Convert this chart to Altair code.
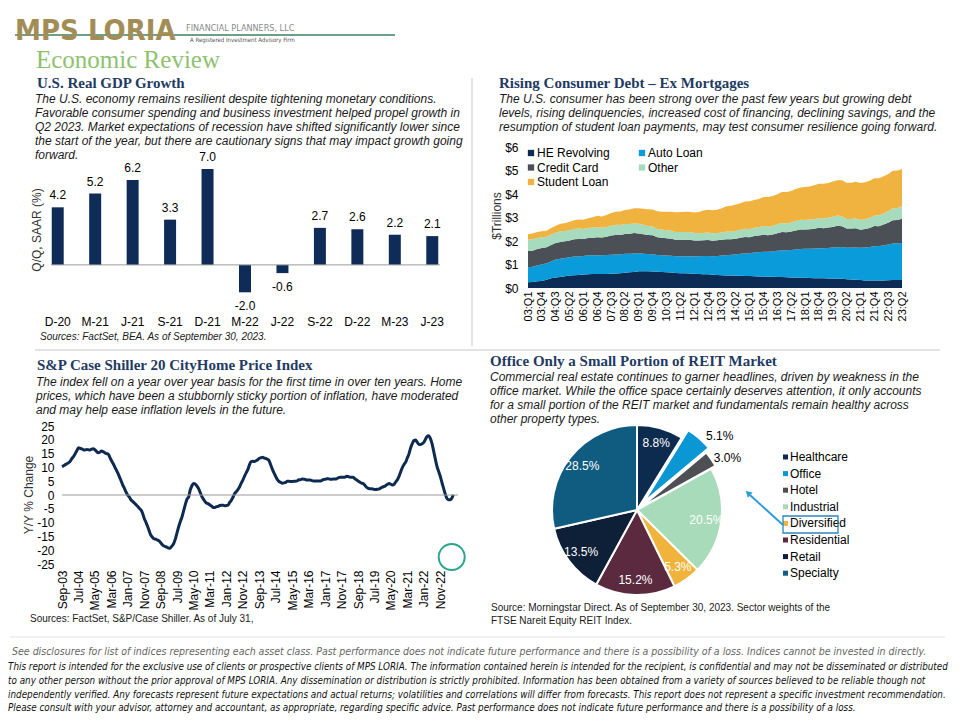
import altair as alt
import pandas as pd

SANS = "Liberation Sans, Arial, sans-serif"
SERIF = "Liberation Serif, Times New Roman, serif"
NARROW = "Liberation Sans Narrow, Arial Narrow, DejaVu Sans Condensed, sans-serif"
NAVY_HEAD = "#1F3B63"
MINUS = "\u2212"
W, H = 944, 704  # whole drawing area (page minus 8px margin)

# ---------------- data ----------------
gdp_quarters = ["D-20", "M-21", "J-21", "S-21", "D-21", "M-22", "J-22", "S-22", "D-22", "M-23", "J-23"]
gdp_values = [4.2, 5.2, 6.2, 3.3, 7.0, -2.0, -0.6, 2.7, 2.6, 2.2, 2.1]

debt_quarters = [f"{y % 100:02d}:Q{q}" for y in range(2003, 2024) for q in range(1, 5)][:82]
debt_labels = debt_quarters[::3]
debt_names = ["HE Revolving", "Auto Loan", "Credit Card", "Other", "Student Loan"]
debt_colors = ["#0C2B55", "#0A9BDB", "#4B4F56", "#A6DBBE", "#F1B340"]

he_revolving = [
    0.24, 0.26, 0.29, 0.30, 0.35, 0.41, 0.45, 0.47, 0.50, 0.53, 0.54, 0.55,
    0.57, 0.59, 0.60, 0.60, 0.60, 0.60, 0.61, 0.62, 0.63, 0.65, 0.67, 0.68,
    0.71, 0.71, 0.71, 0.70, 0.69, 0.68, 0.67, 0.66, 0.64, 0.63, 0.63, 0.62,
    0.61, 0.60, 0.59, 0.58, 0.56, 0.55, 0.54, 0.53, 0.53, 0.52, 0.52, 0.51,
    0.51, 0.50, 0.49, 0.49, 0.48, 0.48, 0.47, 0.47, 0.46, 0.45, 0.45, 0.44,
    0.44, 0.43, 0.42, 0.42, 0.41, 0.40, 0.40, 0.39, 0.39, 0.37, 0.36, 0.35,
    0.34, 0.32, 0.32, 0.32, 0.32, 0.32, 0.33, 0.34, 0.34, 0.34]
auto_loan = [
    0.64, 0.64, 0.68, 0.70, 0.70, 0.72, 0.76, 0.77, 0.78, 0.78, 0.80, 0.79,
    0.79, 0.80, 0.79, 0.79, 0.79, 0.80, 0.81, 0.81, 0.80, 0.81, 0.79, 0.79,
    0.77, 0.75, 0.74, 0.74, 0.71, 0.71, 0.71, 0.71, 0.71, 0.72, 0.72, 0.73,
    0.73, 0.75, 0.77, 0.78, 0.79, 0.81, 0.84, 0.86, 0.88, 0.91, 0.94, 0.96,
    0.97, 1.01, 1.03, 1.05, 1.06, 1.07, 1.11, 1.13, 1.15, 1.17, 1.19, 1.22,
    1.23, 1.24, 1.26, 1.27, 1.28, 1.30, 1.32, 1.33, 1.35, 1.34, 1.36, 1.37,
    1.37, 1.40, 1.43, 1.46, 1.47, 1.49, 1.52, 1.55, 1.56, 1.58]
credit_card = [
    0.69, 0.69, 0.69, 0.70, 0.68, 0.70, 0.70, 0.72, 0.71, 0.71, 0.73, 0.74,
    0.72, 0.74, 0.75, 0.77, 0.76, 0.78, 0.81, 0.83, 0.83, 0.84, 0.85, 0.87,
    0.84, 0.83, 0.81, 0.80, 0.76, 0.75, 0.74, 0.73, 0.70, 0.70, 0.70, 0.70,
    0.68, 0.67, 0.67, 0.68, 0.66, 0.67, 0.67, 0.68, 0.66, 0.67, 0.68, 0.70,
    0.68, 0.70, 0.71, 0.73, 0.71, 0.73, 0.75, 0.78, 0.76, 0.78, 0.81, 0.83,
    0.82, 0.83, 0.84, 0.87, 0.85, 0.87, 0.88, 0.93, 0.89, 0.82, 0.81, 0.82,
    0.77, 0.79, 0.80, 0.86, 0.84, 0.89, 0.93, 0.99, 0.99, 1.03]
other = [
    0.48, 0.48, 0.47, 0.46, 0.45, 0.45, 0.44, 0.45, 0.44, 0.44, 0.44, 0.45,
    0.43, 0.43, 0.42, 0.44, 0.41, 0.42, 0.42, 0.43, 0.42, 0.42, 0.41, 0.41,
    0.41, 0.40, 0.38, 0.38, 0.35, 0.35, 0.34, 0.34, 0.33, 0.33, 0.33, 0.33,
    0.32, 0.31, 0.31, 0.32, 0.31, 0.31, 0.31, 0.33, 0.32, 0.33, 0.34, 0.35,
    0.34, 0.35, 0.36, 0.37, 0.36, 0.37, 0.38, 0.39, 0.38, 0.39, 0.40, 0.41,
    0.40, 0.41, 0.41, 0.42, 0.41, 0.42, 0.43, 0.43, 0.42, 0.41, 0.41, 0.42,
    0.41, 0.42, 0.43, 0.45, 0.45, 0.47, 0.49, 0.51, 0.51, 0.54]
student_loan = [
    0.24, 0.25, 0.25, 0.25, 0.26, 0.27, 0.30, 0.32, 0.33, 0.36, 0.37, 0.39,
    0.39, 0.41, 0.45, 0.47, 0.48, 0.51, 0.54, 0.55, 0.58, 0.60, 0.62, 0.64,
    0.66, 0.68, 0.71, 0.72, 0.76, 0.76, 0.78, 0.81, 0.84, 0.85, 0.87, 0.87,
    0.87, 0.90, 0.96, 0.97, 0.99, 0.99, 1.03, 1.08, 1.11, 1.12, 1.13, 1.16,
    1.19, 1.19, 1.20, 1.23, 1.26, 1.26, 1.28, 1.31, 1.34, 1.34, 1.36, 1.38,
    1.41, 1.41, 1.44, 1.46, 1.49, 1.48, 1.50, 1.51, 1.54, 1.54, 1.54, 1.56,
    1.58, 1.57, 1.58, 1.58, 1.59, 1.59, 1.57, 1.60, 1.60, 1.57]

cs_dates = [f"{2003 + (8 + i) // 12}-{(8 + i) % 12 + 1:02d}-15" for i in range(239)]
cs_label_months = list(range(0, 231, 10))
cs_values = [
    10.3, 10.6, 11.0, 11.3,
    11.7, 12.3, 13.2, 13.9, 14.9, 16.0, 17.1, 16.9, 16.7, 16.4, 16.3, 16.5,
    16.4, 16.3, 16.6, 16.8, 16.4, 15.8, 15.3, 15.5, 15.9, 15.7, 15.3, 15.0,
    14.9, 13.7, 12.6, 11.5, 10.3, 9.1, 7.9, 6.5, 5.0, 3.6, 2.3, 1.0,
    -0.1, -0.8, -1.8, -2.3, -2.9, -3.5, -4.1, -4.8, -5.4, -6.6, -8.5, -9.8,
    -11.3, -13.0, -14.5, -15.3, -15.9, -16.0, -16.3, -16.6, -17.3, -18.0, -18.5, -18.7,
    -19.0, -19.3, -19.1, -18.4, -17.5, -15.8, -13.6, -11.4, -9.5, -7.9, -5.6, -3.4,
    -1.5, -0.6, 1.8, 3.3, 4.2, 4.0, 3.3, 2.4, 1.0, -0.5, -1.5, -2.4,
    -3.0, -3.2, -3.6, -4.0, -4.5, -4.5, -4.2, -4.1, -3.8, -3.7, -3.7, -3.9,
    -3.8, -3.6, -2.7, -1.9, -0.8, 0.5, 1.2, 2.0, 3.0, 4.3, 5.5, 6.8,
    8.1, 9.3, 10.9, 12.1, 12.2, 12.1, 12.4, 12.8, 13.3, 13.5, 13.7, 13.4,
    13.2, 12.9, 12.4, 10.8, 9.3, 7.9, 6.7, 5.6, 4.9, 4.6, 4.3, 4.4,
    4.6, 5.0, 5.0, 4.9, 4.9, 5.0, 5.0, 5.1, 5.5, 5.5, 5.8, 5.7,
    5.6, 5.4, 5.4, 5.4, 5.2, 5.1, 5.1, 5.1, 5.1, 5.1, 5.3, 5.6,
    5.7, 5.9, 5.9, 5.7, 5.7, 5.8, 5.8, 5.9, 6.2, 6.4, 6.4, 6.4,
    6.4, 6.8, 6.7, 6.5, 6.4, 6.4, 6.0, 5.5, 5.1, 4.7, 4.3, 4.2,
    3.6, 2.9, 2.5, 2.3, 2.3, 2.2, 2.0, 2.0, 2.1, 2.2, 2.6, 2.9,
    3.1, 3.5, 3.9, 4.2, 3.9, 3.6, 3.9, 4.8, 5.6, 6.9, 8.5, 10.0,
    11.1, 12.0, 13.4, 14.9, 17.0, 18.6, 19.7, 19.9, 19.1, 18.4, 18.3, 18.6,
    19.1, 20.2, 21.2, 21.5, 20.5, 18.7, 16.0, 13.1, 10.4, 8.6, 6.8, 4.6,
    2.5, 0.4, -1.1, -1.7, -1.7, -1.2, 0.1]

reit_sectors = ["Healthcare", "Office", "Hotel", "Industrial", "Diversified", "Residential", "Retail", "Specialty"]
reit_weights = [8.8, 5.1, 3.0, 20.5, 5.3, 15.2, 13.5, 28.5]
reit_colors = ["#0D2A4F", "#0B96D4", "#4D4F53", "#A8DBB9", "#F0B43C", "#5B2A3F", "#0E1F38", "#0F5C80"]

for arr in (he_revolving, auto_loan, credit_card, other, student_loan):
    assert len(arr) == 82
assert len(cs_values) == 239

gdp_par = ["The U.S.  economy remains resilient despite tightening monetary conditions.",
           "Favorable consumer spending and business investment helped propel growth in",
           "Q2 2023. Market expectations of recession have shifted significantly lower since",
           "the start of the year, but there are cautionary signs that may impact growth going",
           "forward."]
debt_par = ["The U.S.  consumer has been strong over the past few years but growing debt",
            "levels, rising delinquencies, increased cost of financing, declining savings, and the",
            "resumption of student loan payments, may test consumer resilience going forward."]
cs_par = ["The index fell on a year over year basis for the first time in over ten years. Home",
          "prices, which have been a stubbornly sticky portion of inflation, have moderated",
          "and may help ease inflation levels in the future."]
reit_par = ["Commercial real estate continues to garner headlines, driven by weakness in the",
            "office market. While the office space certainly deserves attention, it only accounts",
            "for a small portion of the REIT market and fundamentals remain healthy across",
            "other property types."]
footer1 = ("See disclosures for list of indices representing each asset class. Past performance does not "
           "indicate future performance and there is a possibility of a loss. Indices cannot be invested in directly.")
footer_lines = [
    "This report is intended for the exclusive use of clients or prospective clients of MPS LORIA. The information contained herein is intended for the recipient, is confidential and may not be disseminated or distributed",
    "to any other person without the prior approval of MPS LORIA. Any dissemination or distribution is strictly prohibited. Information has been obtained from a variety of sources believed to be reliable though not",
    "independently verified. Any forecasts represent future expectations and actual returns; volatilities and correlations will differ from forecasts. This report does not represent a specific investment recommendation.",
    "Please consult with your advisor, attorney and accountant, as appropriate, regarding specific advice. Past performance does not indicate future performance and there is a possibility of a loss."]


# ---------------- helpers (page coordinates -> drawing coordinates) ----------------
def T(text, x, y, size=12, font=SANS, color="#1a1a1a", style="normal", weight="normal",
      align="left", baseline="alphabetic", angle=0, lh=None):
    if isinstance(text, list):
        text = "\n".join(text)
    kw = dict(align=align, baseline=baseline, fontSize=size, font=font, color=color,
              fontStyle=style, fontWeight=weight, lineBreak="\n")
    if angle:
        kw["angle"] = angle
    if lh:
        kw["lineHeight"] = lh
    return alt.Chart(pd.DataFrame({"t": [text]})).mark_text(**kw).encode(
        x=alt.value(x - 8), y=alt.value(y - 8), text="t:N")


def R(x1, y1, x2, y2, color="#c8c8c8", w=1):
    return alt.Chart(pd.DataFrame({"a": [0]})).mark_rule(color=color, strokeWidth=w).encode(
        x=alt.value(x1 - 8), y=alt.value(y1 - 8), x2=alt.value(x2 - 8), y2=alt.value(y2 - 8))


def SQ(x, y, color, size):
    return alt.Chart(pd.DataFrame({"a": [0]})).mark_point(
        shape="square", filled=True, size=size, color=color, opacity=1, strokeWidth=0).encode(
        x=alt.value(x - 8), y=alt.value(y - 8))


# ---------------- free text, rules, legends ----------------
layers = [
    R(15, 35, 395, 35, color="#3E7F62", w=1.3),
    T("MPS LORIA", 15, 40, size=29, font=NARROW, weight="bold", color="#A38D57"),
    T("FINANCIAL PLANNERS, LLC", 186, 31, size=9, font=NARROW, color="#8A8A8A"),
    T("A Registered Investment Advisory Firm", 190, 42, size=6, font=NARROW, color="#555"),
    T("Economic Review", 36, 68, size=25, font=SERIF, color="#8DC26F"),
    T("U.S. Real GDP Growth", 37, 88, size=15, font=SERIF, weight="bold", color=NAVY_HEAD),
    T(gdp_par, 35, 103, size=12, style="italic", lh=13.9),
    T("Q/Q, SAAR (%)", 37, 230, size=12, color="#333", align="center", baseline="middle", angle=270),
    T("Sources: FactSet, BEA. As of September 30, 2023.", 40, 340, size=10, style="italic"),
    T("Rising Consumer Debt \u2013 Ex Mortgages", 499, 88, size=15, font=SERIF, weight="bold", color=NAVY_HEAD),
    T(debt_par, 499, 103, size=12, style="italic", lh=13.9),
    T("$Trillions", 497, 216, size=12, color="#333", align="center", baseline="middle", angle=270),
    R(472, 78, 472, 346),
    R(35, 350, 940, 350),
    T("S&P Case Shiller 20 CityHome Price Index", 37, 370, size=15, font=SERIF, weight="bold", color=NAVY_HEAD),
    T(cs_par, 36, 386, size=12, style="italic", lh=13.9),
    T("Y/Y  % Change", 29, 495, size=12, color="#333", align="center", baseline="middle", angle=270),
    T("Sources: FactSet, S&P/Case  Shiller. As of July 31,", 30, 622, size=10),
    T("Office Only a Small Portion of REIT Market", 490, 366, size=15, font=SERIF, weight="bold", color=NAVY_HEAD),
    T(reit_par, 490, 381, size=12, style="italic", lh=13.9),
    T(["Source: Morningstar Direct. As of September 30, 2023. Sector weights of the",
       "FTSE  Nareit Equity REIT  Index."], 491, 611, size=10, lh=13),
    R(10, 637, 945, 637, color="#e2e2e2"),
    T(footer1, 12, 655, size=10.5, font=NARROW, style="italic", color="#666"),
    T(footer_lines, 8, 670, size=9.8, font=NARROW, style="italic", color="#111", lh=13.8),
]

# consumer-debt legend (two columns)
leg_cols = [531, 642]
leg_rows = [153, 167.5, 182]
for k, (name, c) in enumerate(zip(debt_names, debt_colors)):
    lx, ly = leg_cols[k % 2], leg_rows[k // 2]
    layers.append(SQ(lx, ly, c, 40))
    layers.append(T(name, lx + 6, ly, size=12, color="#000", baseline="middle"))

# REIT legend
for k, (name, c) in enumerate(zip(reit_sectors, reit_colors)):
    ly = 457 + 16.6 * k
    layers.append(SQ(785.5, ly, c, 25))
    layers.append(T(name, 790, ly, size=12, color="#000", baseline="middle"))

# Diversified call-out box and arrow
layers.append(alt.Chart(pd.DataFrame({"a": [0]})).mark_rect(fillOpacity=0, stroke="#2E86C1", strokeWidth=1.3).encode(
    x=alt.value(783 - 8), x2=alt.value(838 - 8), y=alt.value(516 - 8), y2=alt.value(533 - 8)))
layers.append(R(783, 525, 750, 495, color="#2A9FD6", w=2))
layers.append(alt.Chart(pd.DataFrame({"a": [0]})).mark_point(
    shape="triangle-up", filled=True, size=50, angle=312, color="#2A9FD6", opacity=1).encode(
    x=alt.value(748 - 8), y=alt.value(493 - 8)))

# ---------------- GDP (plot area page x 39..451, y 147..306) ----------------
gdp_df = pd.DataFrame({"q": gdp_quarters, "v": gdp_values})
gdp_df["lab"] = [f"{v:.1f}" for v in gdp_values]
xg = alt.X("q:N", sort=gdp_quarters,
           scale=alt.Scale(paddingInner=0.68, paddingOuter=0.34, range=[39 - 8, 451 - 8]),
           axis=alt.Axis(orient="bottom", offset=(306 - 8) - H, title=None, labelAngle=0, labelFontSize=12,
                         labelPadding=10, ticks=False, domain=False, labelColor="#000", labelFont=SANS))
yg = alt.Y("v:Q", scale=alt.Scale(domain=[-3, 8.6], nice=False, range=[306 - 8, 147 - 8]), axis=None)
gdp_bars = alt.Chart(gdp_df).mark_bar(color="#0F2C59").encode(x=xg, y=yg)
gdp_text = alt.Chart(gdp_df).transform_calculate(
    ly="datum.v >= 0 ? datum.v + 0.58 : datum.v - 1.31").mark_text(
    baseline="alphabetic", fontSize=12, font=SANS, color="#000").encode(
    x=xg, y=alt.Y("ly:Q"), text="lab:N")
gdp_zero = alt.Chart(pd.DataFrame({"v": [0]})).mark_rule(color="#9a9a9a").encode(
    y="v:Q", x=alt.value(51 - 8), x2=alt.value(440 - 8))
gdp_group = alt.layer(gdp_bars, gdp_zero, gdp_text)

# ---------------- consumer debt (page x 528..902, y 147..288) ----------------
rows = []
for k, (name, arr) in enumerate(zip(debt_names, [he_revolving, auto_loan, credit_card, other, student_loan])):
    for q, v in zip(debt_quarters, arr):
        rows.append({"q": q, "series": name, "v": v, "o": k})
debt_df = pd.DataFrame(rows)
debt_group = alt.Chart(debt_df).mark_area(opacity=1).encode(
    x=alt.X("q:O", sort=debt_quarters, scale=alt.Scale(type="point", padding=0, range=[528 - 8, 902 - 8]),
            axis=alt.Axis(orient="bottom", offset=(288 - 8) - H, values=debt_labels, labelAngle=270,
                          labelFontSize=11, labelPadding=3, ticks=False, domain=False, title=None,
                          labelColor="#000", labelFont=SANS)),
    y=alt.Y("v:Q", stack="zero", scale=alt.Scale(domain=[0, 6], nice=False, range=[288 - 8, 147 - 8]),
            axis=alt.Axis(orient="left", offset=-(528 - 8), values=[0, 1, 2, 3, 4, 5, 6],
                          labelExpr="'$' + datum.value", labelFontSize=12, labelPadding=10, ticks=False,
                          domain=False, grid=False, title=None, labelColor="#000", labelFont=SANS)),
    color=alt.Color("series:N", scale=alt.Scale(domain=debt_names, range=debt_colors), legend=None),
    order=alt.Order("o:Q"),
)

# ---------------- Case-Shiller (page x 62..455, y 426..564) ----------------
def ms(s):
    return int(pd.Timestamp(s).value // 10**6)

cs_df = pd.DataFrame({"d": cs_dates, "v": cs_values})
xcs = alt.X("d:T", scale=alt.Scale(domain=[ms("2003-09-15"), ms("2023-08-15")], range=[62 - 8, 455 - 8]),
            axis=alt.Axis(orient="bottom", offset=(564 - 8) - H, values=[ms(cs_dates[i]) for i in cs_label_months],
                          format="%b-%y", labelAngle=270, labelFontSize=12, labelPadding=6, ticks=False,
                          domain=False, grid=False, title=None, labelColor="#000", labelFont=SANS))
ycs = alt.Y("v:Q", scale=alt.Scale(domain=[-25, 25], nice=False, range=[564 - 8, 426 - 8]),
            axis=alt.Axis(orient="left", offset=-(62 - 8), values=list(range(-25, 30, 5)), labelFontSize=12,
                          labelExpr=f"replace(datum.label, '{MINUS}', '-')",
                          labelPadding=8, ticks=False, domain=False, grid=False, title=None,
                          labelColor="#000", labelFont=SANS))
cs_zero = alt.Chart(pd.DataFrame({"v": [0]})).mark_rule(color="#9a9a9a").encode(
    y="v:Q", x=alt.value(62 - 8), x2=alt.value(458 - 8))
cs_line = alt.Chart(cs_df).mark_line(color="#0D2B50", strokeWidth=3, interpolate="monotone").encode(x=xcs, y=ycs)
cs_circle = alt.Chart(pd.DataFrame({"d": ["2023-06-15"], "v": [-22.5]})).mark_point(
    shape="circle", size=676, filled=False, stroke="#2BA58E", strokeWidth=2, opacity=1).encode(x="d:T", y="v:Q")
cs_group = alt.layer(cs_line, cs_zero, cs_circle)

# ---------------- REIT pie (centre page 637,510, r=85) ----------------
PX, PY = 637 - 8, 510 - 8
pie_df = pd.DataFrame({"sector": reit_sectors, "w": reit_weights, "i": list(range(len(reit_sectors)))})
pie_df["lab"] = [f"{w:.1f}%" for w in reit_weights]
th = alt.Theta("w:Q", stack=True)
od = alt.Order("i:Q")
col = alt.Color("sector:N", scale=alt.Scale(domain=reit_sectors, range=reit_colors), legend=None)
is_off = alt.datum.sector == "Office"
is_hot = alt.datum.sector == "Hotel"
pie_base = alt.Chart(pie_df)
arc_main = pie_base.mark_arc(outerRadius=85, stroke="#fff", strokeWidth=2).encode(
    x=alt.value(PX), y=alt.value(PY), theta=th, color=col, order=od,
    opacity=alt.condition(is_off | is_hot, alt.value(0), alt.value(1)))
arc_office = pie_base.mark_arc(outerRadius=85, stroke="#fff", strokeWidth=2).encode(
    x=alt.value(PX + 6.5), y=alt.value(PY - 7.5), theta=th, color=col, order=od,
    opacity=alt.condition(is_off, alt.value(1), alt.value(0)))
arc_hotel = pie_base.mark_arc(outerRadius=85, stroke="#fff", strokeWidth=2).encode(
    x=alt.value(PX + 4.1), y=alt.value(PY - 2.9), theta=th, color=col, order=od,
    opacity=alt.condition(is_hot, alt.value(1), alt.value(0)))
lab_in = pie_base.mark_text(radius=70, fontSize=12, font=SANS, color="#fff").encode(
    x=alt.value(PX), y=alt.value(PY), theta=th, order=od, detail="sector:N",
    text=alt.condition(is_off | is_hot, alt.value(""), alt.Text("lab:N")))
lab_off = pie_base.mark_text(radius=108, fontSize=12, font=SANS, color="#000").encode(
    x=alt.value(PX + 12), y=alt.value(PY + 8), theta=th, order=od, detail="sector:N",
    text=alt.condition(is_off, alt.Text("lab:N"), alt.value("")))
lab_hot = pie_base.mark_text(radius=100, fontSize=12, font=SANS, color="#000").encode(
    x=alt.value(PX + 8), y=alt.value(PY + 5), theta=th, order=od, detail="sector:N",
    text=alt.condition(is_hot, alt.Text("lab:N"), alt.value("")))
pie_group = alt.layer(arc_main, arc_office, arc_hotel, lab_in, lab_off, lab_hot)

# ---------------- one drawing ----------------
chart = alt.layer(gdp_group, debt_group, cs_group, pie_group, *layers).resolve_scale(
    x="independent", y="independent", color="independent").resolve_axis(
    x="independent", y="independent").properties(
    width=W, height=H, padding=0, background="white").configure_view(stroke=None)

chart.save("out.html", embed_options={"renderer": "svg", "actions": False})
